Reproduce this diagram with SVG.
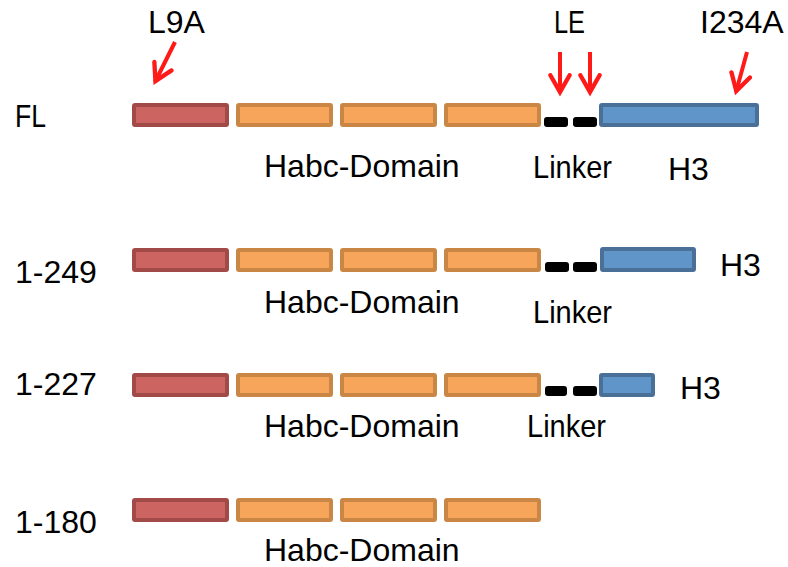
<svg xmlns="http://www.w3.org/2000/svg" width="788" height="567" viewBox="0 0 788 567">
  <style>
    text { font-family: "Liberation Sans", Arial, sans-serif; font-size: 32px; fill: #000; }
    .n { stroke-width: 4; stroke-linejoin: round; }
    .red { fill: #cc6561; stroke: #a24a48; }
    .org { fill: #f6a55b; stroke: #c98645; }
    .blu { fill: #5f95c8; stroke: #4a7098; }
    .lnk { fill: #000; }
    .arr { stroke: #ff1a1a; stroke-width: 4; fill: none; stroke-linecap: butt; }
  </style>
  <defs>
    <marker id="head" viewBox="0 0 10 10" refX="8.4" refY="5" markerWidth="6" markerHeight="6" orient="auto" markerUnits="strokeWidth">
      <path d="M1,1 L8,5 L1,9" fill="none" stroke="#ff1a1a" stroke-width="1.8" stroke-linecap="round" stroke-linejoin="miter"/>
    </marker>
  </defs>

  <!-- Full length construct -->
  <g id="row-FL">
    <text x="15" y="127" textLength="31" lengthAdjust="spacingAndGlyphs">FL</text>
    <rect class="n red" x="134" y="105" width="93" height="20" rx="1"/>
    <rect class="n org" x="238" y="105" width="93" height="20" rx="1"/>
    <rect class="n org" x="342" y="105" width="93" height="20" rx="1"/>
    <rect class="n org" x="446" y="105" width="93" height="20" rx="1"/>
    <rect class="lnk" x="544" y="117" width="24" height="10" rx="3"/>
    <rect class="lnk" x="573" y="117" width="24" height="10" rx="3"/>
    <rect class="n blu" x="601" y="105" width="156" height="20" rx="1"/>
    <text x="264" y="177">Habc-Domain</text>
    <text x="533" y="178" textLength="79" lengthAdjust="spacingAndGlyphs">Linker</text>
    <text x="668" y="180">H3</text>
  </g>

  <!-- Mutation labels -->
  <g id="mutations">
    <text x="148" y="33">L9A</text>
    <text x="554" y="33" textLength="31" lengthAdjust="spacingAndGlyphs">LE</text>
    <text x="700" y="33">I234A</text>
  </g>

  <!-- Construct 1-249 -->
  <g id="row-1-249">
    <text x="15" y="283">1-249</text>
    <rect class="n red" x="134" y="250" width="93" height="20" rx="1"/>
    <rect class="n org" x="238" y="250" width="93" height="20" rx="1"/>
    <rect class="n org" x="342" y="250" width="93" height="20" rx="1"/>
    <rect class="n org" x="446" y="250" width="93" height="20" rx="1"/>
    <rect class="lnk" x="545" y="262" width="24" height="10" rx="3"/>
    <rect class="lnk" x="573" y="262" width="24" height="10" rx="3"/>
    <rect class="n blu" x="602" y="249" width="92" height="21" rx="1"/>
    <text x="264" y="313">Habc-Domain</text>
    <text x="533" y="323" textLength="79" lengthAdjust="spacingAndGlyphs">Linker</text>
    <text x="720" y="276">H3</text>
  </g>

  <!-- Construct 1-227 -->
  <g id="row-1-227">
    <text x="15" y="395">1-227</text>
    <rect class="n red" x="134" y="375" width="93" height="20" rx="1"/>
    <rect class="n org" x="238" y="375" width="93" height="20" rx="1"/>
    <rect class="n org" x="342" y="375" width="93" height="20" rx="1"/>
    <rect class="n org" x="446" y="375" width="93" height="20" rx="1"/>
    <rect class="lnk" x="545" y="386" width="22" height="10" rx="3"/>
    <rect class="lnk" x="573" y="386" width="24" height="10" rx="3"/>
    <rect class="n blu" x="601" y="375" width="52" height="20" rx="1"/>
    <text x="264" y="437">Habc-Domain</text>
    <text x="527" y="437" textLength="79" lengthAdjust="spacingAndGlyphs">Linker</text>
    <text x="680" y="399">H3</text>
  </g>

  <!-- Construct 1-180 -->
  <g id="row-1-180">
    <text x="15" y="533">1-180</text>
    <rect class="n red" x="134" y="500" width="93" height="20" rx="1"/>
    <rect class="n org" x="238" y="500" width="93" height="20" rx="1"/>
    <rect class="n org" x="342" y="500" width="93" height="20" rx="1"/>
    <rect class="n org" x="446" y="500" width="93" height="20" rx="1"/>
    <text x="264" y="561">Habc-Domain</text>
  </g>

  <!-- Arrows pointing at mutated positions -->
  <g id="connectors">
    <line class="arr" x1="175" y1="42" x2="155" y2="82" marker-end="url(#head)"/>
    <line class="arr" x1="560" y1="52" x2="560" y2="93" marker-end="url(#head)"/>
    <line class="arr" x1="590" y1="52" x2="590" y2="93" marker-end="url(#head)"/>
    <line class="arr" x1="747" y1="52" x2="736" y2="92" marker-end="url(#head)"/>
  </g>
</svg>
